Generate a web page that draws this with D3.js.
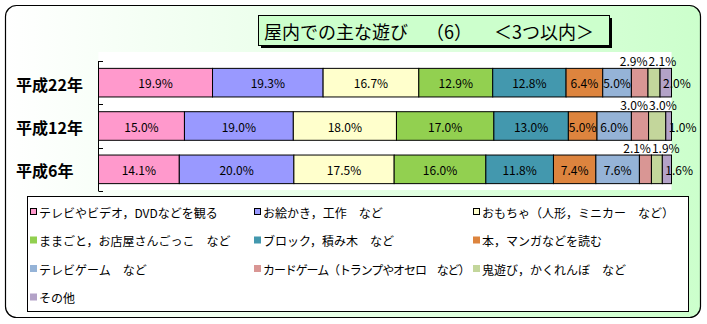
<!DOCTYPE html>
<html><head><meta charset="utf-8">
<script src="https://cdn.jsdelivr.net/npm/d3@7"></script>
<style>body{margin:0;background:#fff}svg{display:block}</style>
</head><body>
<svg id="c" width="707" height="324"></svg>
<script>
const titleParts = ["屋内での主な遊び", "（6）", "＜3つ以内＞"];
const categories = ["平成22年", "平成12年", "平成6年"];
const seriesNames = [
  "テレビやビデオ，DVDなどを観る",
  "お絵かき，工作　など",
  "おもちゃ（人形，ミニカー　など）",
  "ままごと，お店屋さんごっこ　など",
  "ブロック，積み木　など",
  "本，マンガなどを読む",
  "テレビゲーム　など",
  "カードゲーム（トランプやオセロ　など）",
  "鬼遊び，かくれんぼ　など",
  "その他"
];
const seriesColors = ["#ff99cc","#9999ff","#ffffcc","#92d050","#4398ae","#dd843e","#95b3d7","#d99694","#c3d69b","#b3a2c7"];
const valuesH22 = [19.9, 19.3, 16.7, 12.9, 12.8, 6.4, 5.0, 2.9, 2.1, 2.0];
const valuesH12 = [15.0, 19.0, 18.0, 17.0, 13.0, 5.0, 6.0, 3.0, 3.0, 1.0];
const valuesH6  = [14.1, 20.0, 17.5, 16.0, 11.8, 7.4, 7.6, 2.1, 1.9, 1.6];
const rowValues = [valuesH22, valuesH12, valuesH6];

const svg = d3.select("#c");
const defs = svg.append("defs");
const grad = defs.append("linearGradient").attr("id","bg").attr("x1","0").attr("x2","1").attr("y1","0").attr("y2","0");
grad.append("stop").attr("offset","0").attr("stop-color","#ffffff");
grad.append("stop").attr("offset","1").attr("stop-color","#ccffcc");

// outer frame
svg.append("rect").attr("x",5.5).attr("y",5.5).attr("width",695).attr("height",312).attr("rx",11)
  .attr("fill","url(#bg)").attr("stroke","#000").attr("stroke-width",1.2);

// plot area
const x = d3.scaleLinear().domain([0,100]).range([98.5, 671.5]);
const y = d3.scaleBand().domain(categories).range([61, 191]).paddingInner(0.34).paddingOuter(0.17);
svg.append("rect").attr("x",98.5).attr("y",52).attr("width",573).attr("height",138).attr("fill","#fff");

// title box
const tb = {x:258, y:15, w:351, h:30};
svg.append("rect").attr("x",tb.x+3).attr("y",tb.y+3).attr("width",tb.w).attr("height",tb.h).attr("fill","#000");
svg.append("rect").attr("x",tb.x+0.5).attr("y",tb.y+0.5).attr("width",tb.w).attr("height",tb.h)
  .attr("fill","#ccffcc").attr("stroke","#000").attr("stroke-width",1);
const tt = svg.append("text").attr("y",tb.y+tb.h/2+1).attr("dominant-baseline","central")
  .attr("font-family","'Noto Sans CJK JP'").attr("font-size",18).attr("fill","#000");
const titleX = [264, 426, 494];
titleParts.forEach((p,i)=> tt.append("tspan").attr("x",titleX[i]).text(p));

// bars
const stackData = categories.map((c,i) => {
  const o = {cat:c};
  seriesNames.forEach((s,j) => o[s] = rowValues[i][j]);
  return o;
});
const stack = d3.stack().keys(seriesNames)(stackData);
const layers = svg.append("g").selectAll("g").data(stack).join("g")
  .attr("fill",(d,i)=>seriesColors[i]);
layers.selectAll("rect").data(d=>d).join("rect")
  .attr("x",d=>x(d[0])).attr("width",d=>x(d[1])-x(d[0]))
  .attr("y",d=>y(d.data.cat)).attr("height",y.bandwidth())
  .attr("stroke","#000").attr("stroke-width",1);

// labels
const lab = svg.append("g").attr("font-family","'Noto Sans CJK JP'").attr("font-size",12).attr("fill","#000");
const nS = seriesNames.length;
stack.forEach((layer,j) => {
  layer.forEach(d => {
    const v = d[1]-d[0];
    const t = v.toFixed(1)+"%";
    const cx = (x(d[0])+x(d[1]))/2;
    const y0 = y(d.data.cat);
    if (j === nS-1) {
      lab.append("text").attr("x",x(d[0])+3).attr("y",y0+y.bandwidth()/2).attr("dominant-baseline","central").text(t);
    } else if (j === nS-3) {
      lab.append("text").attr("x",x(d[1])-0.5).attr("y",y0-2).attr("text-anchor","end").text(t);
    } else if (j === nS-2) {
      lab.append("text").attr("x",x(d[0])+0.5).attr("y",y0-2).attr("text-anchor","start").text(t);
    } else {
      lab.append("text").attr("x",cx).attr("y",y0+y.bandwidth()/2).attr("dominant-baseline","central").attr("text-anchor","middle").text(t);
    }
  });
});

// axis
const ax = svg.append("g").attr("stroke","#000").attr("stroke-width",1);
ax.append("line").attr("x1",98.5).attr("x2",98.5).attr("y1",61).attr("y2",191);
const step = y.step();
const bounds = categories.map(c => y(c) - step*y.paddingInner()/2).concat([y(categories[categories.length-1]) + y.bandwidth() + step*y.paddingInner()/2]);
bounds.forEach(b => ax.append("line").attr("x1",98.5).attr("x2",103).attr("y1",Math.round(b)+0.5).attr("y2",Math.round(b)+0.5));

// category labels
svg.append("g").selectAll("text").data(categories).join("text")
  .attr("x",16).attr("y",d=>y(d)+y.bandwidth()/2+1).attr("dominant-baseline","central")
  .attr("font-family","'Noto Sans CJK JP'").attr("font-weight","bold").attr("font-size",16).text(d=>d);

// legend
svg.append("rect").attr("x",27.5).attr("y",196.5).attr("width",661).attr("height",115).attr("fill","#fff").attr("stroke","#000");
const colX = [30, 254, 473];
const rowY = [212, 240.5, 269, 297.5];
const lg = svg.append("g").selectAll("g").data(seriesNames).join("g")
  .attr("transform",(d,i)=>`translate(${colX[i%3]},${rowY[Math.floor(i/3)]})`);
lg.append("rect").attr("x",(d,i)=>i<3?0.5:0).attr("y",(d,i)=>i<3?-3.5:-4).attr("width",(d,i)=>i<3?6:7).attr("height",(d,i)=>i<3?6:7)
  .attr("fill",(d,i)=>seriesColors[i]).attr("stroke",(d,i)=>i<3?"#000":"none");
lg.append("text").attr("x",9).attr("y",0).attr("dominant-baseline","central")
  .attr("font-family","'Noto Sans CJK JP'").attr("font-size",12)
  .attr("letter-spacing",d=>d.length>16?-1.1:0).text(d=>d);
</script>
</body></html>
